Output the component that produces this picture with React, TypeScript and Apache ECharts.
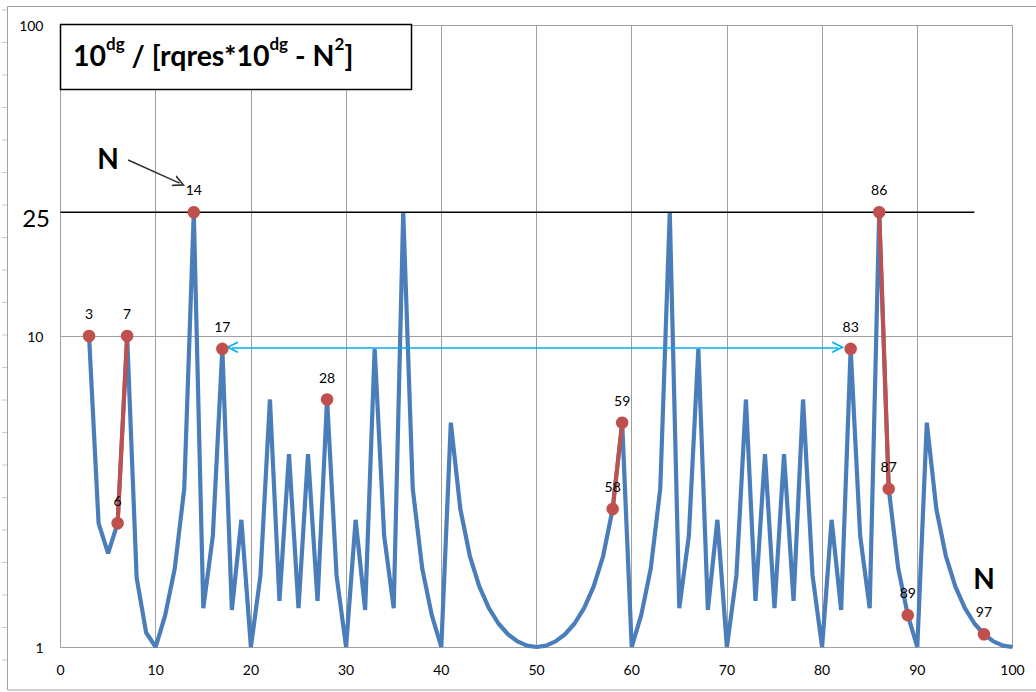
import React, { useEffect, useRef } from "react";
import * as echarts from "echarts";

// N values (x) and the ratio 10^dg / [rqres*10^dg - N^2] (y, log scale)
const N_VALUES = [
  3, 4, 5, 6, 7, 8, 9, 10, 11, 12, 13, 14, 15, 16, 17, 18, 19, 20, 21, 22, 23, 24, 25, 26, 27, 28, 29, 30,
  31, 32, 33, 34, 35, 36, 37, 38, 39, 40, 41, 42, 43, 44, 45, 46, 47, 48, 49, 50, 51, 52, 53, 54, 55, 56,
  57, 58, 59, 60, 61, 62, 63, 64, 65, 66, 67, 68, 69, 70, 71, 72, 73, 74, 75, 76, 77, 78, 79, 80, 81, 82,
  83, 84, 85, 86, 87, 88, 89, 90, 91, 92, 93, 94, 95, 96, 97, 98, 99, 100,
];
const RATIO = [
  10, 2.5, 2, 2.5, 10, 1.667, 1.111, 1, 1.266, 1.786, 3.226, 25, 1.333, 2.273, 9.091, 1.316, 2.564, 1,
  1.695, 6.25, 1.408, 4.167, 1.333, 4.167, 1.408, 6.25, 1.695, 1, 2.564, 1.316, 9.091, 2.273, 1.333, 25,
  3.226, 1.786, 1.266, 1, 5.263, 2.778, 1.961, 1.563, 1.333, 1.19, 1.099, 1.042, 1.01, 1, 1.01, 1.042,
  1.099, 1.19, 1.333, 1.563, 1.961, 2.778, 5.263, 1, 1.266, 1.786, 3.226, 25, 1.333, 2.273, 9.091, 1.316,
  2.564, 1, 1.695, 6.25, 1.408, 4.167, 1.333, 4.167, 1.408, 6.25, 1.695, 1, 2.564, 1.316, 9.091, 2.273,
  1.333, 25, 3.226, 1.786, 1.266, 1, 5.263, 2.778, 1.961, 1.563, 1.333, 1.19, 1.099, 1.042, 1.01, 1,
];
const HIGHLIGHT_N = [3, 6, 7, 14, 17, 28, 58, 59, 83, 86, 87, 89, 97];
const RED_SEGMENTS = [
  [6, 7],
  [58, 59],
  [86, 87],
];
const REF_LEVEL = 25;
const REF_SPAN = [0, 96];
const ARROW_SPAN = [18, 81.7];
const ARROW_LEVEL = 9.2;
const N_POINTER_FROM = [7.1, 36.8];
const N_POINTER_TO = [12.5, 31.0];
const EXTRA_Y_LABEL = "25";
const TITLE_PARTS = ["10", "dg", " / [rqres*10", "dg", " - N", "2", "]"];

const FONT = "Lato, 'Open Sans', sans-serif";
const BLUE = "#4a7ebb";
const RED = "#c0504d";
const GRID = "#a0a0a0";
const CHEVRON = "path://M0,10L5,0L10,10L8.4,10L5,3L1.6,10Z";

const valueAt = (n: number) => RATIO[N_VALUES.indexOf(n)];

export default function App() {
  const ref = useRef<HTMLDivElement>(null);
  useEffect(() => {
    if (!ref.current) return;
    const chart = echarts.init(ref.current, null, { renderer: "svg" });

    const titleRich = TITLE_PARTS.map((t, i) => `{${i % 2 === 0 ? "a" : "s"}|${t}}`).join("");

    const leftTicks: any[] = [];
    for (let y = 10; y < 692; y += 32.5) {
      leftTicks.push({
        type: "line",
        silent: true,
        shape: { x1: 2, y1: y, x2: 7, y2: y },
        style: { stroke: "#c8c8d8", lineWidth: 1 },
      });
    }

    const option: any = {
      animation: false,
      backgroundColor: "#fff",
      grid: { left: 60.5, right: 23.5, top: 25, bottom: 45 },
      xAxis: {
        type: "value",
        min: 0,
        max: 100,
        interval: 10,
        axisLine: { show: true, lineStyle: { color: GRID, width: 1 } },
        axisTick: { show: false },
        axisLabel: { fontSize: 14, color: "#000", fontFamily: FONT, margin: 15 },
        splitLine: { show: true, lineStyle: { color: GRID, width: 1 } },
      },
      yAxis: {
        type: "log",
        logBase: 10,
        min: 1,
        max: 100,
        axisLine: { show: true, lineStyle: { color: GRID, width: 1 } },
        axisTick: { show: false },
        axisLabel: { fontSize: 14, color: "#000", fontFamily: FONT, margin: 17 },
        splitLine: { show: true, lineStyle: { color: GRID, width: 1 } },
      },
      series: [
        {
          type: "line",
          data: N_VALUES.map((n, i) => [n, RATIO[i]]),
          symbol: "none",
          clip: false,
          lineStyle: { color: BLUE, width: 4.2 },
          z: 2,
        },
        {
          type: "line",
          data: REF_SPAN.map((x) => [x, REF_LEVEL]),
          symbol: "none",
          lineStyle: { color: "#000", width: 1.5 },
          z: 3,
          markLine: {
            silent: true,
            symbol: [CHEVRON, CHEVRON],
            symbolSize: 12,
            label: { show: false },
            lineStyle: { color: "#00b0f0", width: 1.5, type: "solid" },
            data: [[{ coord: [ARROW_SPAN[0], ARROW_LEVEL] }, { coord: [ARROW_SPAN[1], ARROW_LEVEL] }]],
          },
        },
        ...RED_SEGMENTS.map((seg) => ({
          type: "line",
          data: seg.map((n) => [n, valueAt(n)]),
          symbol: "none",
          clip: false,
          lineStyle: { color: RED, width: 4 },
          z: 4,
        })),
        {
          type: "scatter",
          data: HIGHLIGHT_N.map((n) => [n, valueAt(n)]),
          symbolSize: 12.5,
          itemStyle: { color: RED, opacity: 1 },
          clip: false,
          z: 5,
          label: {
            show: true,
            position: "top",
            distance: 9,
            formatter: (p: any) => String(p.value[0]),
            fontSize: 14,
            color: "#000",
            fontFamily: FONT,
          },
          markLine: {
            silent: true,
            symbol: ["none", CHEVRON],
            symbolSize: 12,
            label: { show: false },
            lineStyle: { color: "#303030", width: 1.5, type: "solid" },
            data: [[{ coord: N_POINTER_FROM }, { coord: N_POINTER_TO }]],
          },
        },
      ],
      graphic: [
        {
          type: "rect",
          silent: true,
          z: -1,
          shape: { x: 7.5, y: 6.5, width: 1100, height: 683.5 },
          style: { fill: "rgba(0,0,0,0)", stroke: GRID, lineWidth: 1 },
        },
        ...leftTicks,
        {
          type: "text",
          silent: true,
          x: 50,
          y: 217,
          style: {
            text: EXTRA_Y_LABEL,
            fontSize: 24,
            fontFamily: FONT,
            fill: "#000",
            align: "right",
            verticalAlign: "middle",
          },
        },
        {
          type: "rect",
          silent: true,
          z: 100,
          shape: { x: 60.5, y: 24.5, width: 351, height: 65 },
          style: { fill: "#fff", stroke: "#000", lineWidth: 1.5 },
        },
        {
          type: "text",
          silent: true,
          z: 101,
          x: 73,
          y: 52,
          style: {
            text: titleRich,
            verticalAlign: "middle",
            align: "left",
            rich: {
              a: { fontSize: 28.5, fontWeight: "bold", fontFamily: FONT, fill: "#000", lineHeight: 34, verticalAlign: "bottom" },
              s: { fontSize: 17, fontWeight: "bold", fontFamily: FONT, fill: "#000", lineHeight: 34, verticalAlign: "top" },
            },
          },
        },
        {
          type: "text",
          silent: true,
          z: 101,
          x: 108,
          y: 158,
          style: { text: "N", fontSize: 28, fontWeight: "bold", fontFamily: FONT, fill: "#000", align: "center", verticalAlign: "middle" },
        },
        {
          type: "text",
          silent: true,
          z: 101,
          x: 984,
          y: 578,
          style: { text: "N", fontSize: 28, fontWeight: "bold", fontFamily: FONT, fill: "#000", align: "center", verticalAlign: "middle" },
        },
      ],
    };
    chart.setOption(option);
    return () => chart.dispose();
  }, []);
  return <div ref={ref} style={{ position: "fixed", left: 0, top: 0, width: 1036, height: 692 }} />;
}
